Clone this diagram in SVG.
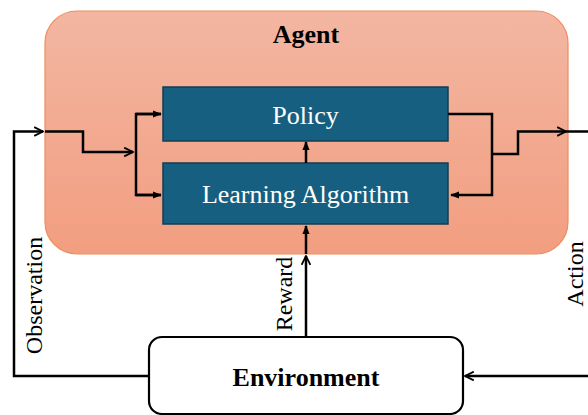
<svg xmlns="http://www.w3.org/2000/svg" width="588" height="415" viewBox="0 0 588 415">
  <defs>
    <linearGradient id="agentGrad" x1="0" y1="0" x2="0" y2="1">
      <stop offset="0" stop-color="#F3B6A2"/>
      <stop offset="1" stop-color="#F29E80"/>
    </linearGradient>
    <marker id="open" viewBox="0 0 10 10" refX="9" refY="5" markerWidth="11" markerHeight="11" markerUnits="userSpaceOnUse" orient="auto">
      <path d="M1,1 L9,5 L1,9" fill="none" stroke="#000" stroke-width="1.6"/>
    </marker>
    <marker id="solid" viewBox="0 0 10 10" refX="9" refY="5" markerWidth="9" markerHeight="9" markerUnits="userSpaceOnUse" orient="auto">
      <path d="M0,1 L10,5 L0,9 Z" fill="#000"/>
    </marker>
  </defs>
  <style>
    .serif { font-family: "Liberation Serif", "Times New Roman", serif; }
    .box { fill: #175F80; stroke: #123E52; stroke-width: 1.5; }
    .wt { fill: #FFFFFF; font-size: 26px; text-anchor: middle; }
    .lbl { fill: #000; font-size: 24px; text-anchor: middle; }
    .bold { font-weight: bold; font-size: 26px; text-anchor: middle; fill: #000; }
    .ln { fill: none; stroke: #000; stroke-width: 2.5; }
  </style>

  <g id="agent">
    <rect x="45" y="11" width="523" height="243" rx="32" ry="32" fill="url(#agentGrad)" stroke="#EE8D5C" stroke-width="1.2"/>
    <text class="serif bold" x="306" y="43">Agent</text>
  </g>

  <g id="policy">
    <rect class="box" x="163" y="87" width="285" height="54"/>
    <text class="serif wt" x="305.5" y="124">Policy</text>
  </g>

  <g id="learning">
    <rect class="box" x="163" y="163" width="285" height="61"/>
    <text class="serif wt" x="305.5" y="203">Learning Algorithm</text>
  </g>

  <g id="environment">
    <rect x="149" y="337" width="314" height="77" rx="13" ry="13" fill="#FFFFFF" stroke="#000" stroke-width="2.2"/>
    <text class="serif bold" x="306" y="386">Environment</text>
  </g>

  <g id="connectors">
    <!-- Observation -->
    <path class="ln" d="M149,376 H14 V131.5 H43" marker-end="url(#open)"/>
    <path class="ln" d="M45,131.5 H83 V152 H133" marker-end="url(#open)"/>
    <path class="ln" d="M161,114 H136 V195 H161" />
    <path class="ln" d="M136,114 H161" marker-end="url(#solid)"/>
    <path class="ln" d="M136,195 H161" marker-end="url(#solid)"/>
    <!-- Learning to Policy -->
    <path class="ln" d="M306,163 V142" marker-end="url(#solid)"/>
    <!-- Reward -->
    <path class="ln" d="M306,337 V256" marker-end="url(#open)"/>
    <path class="ln" d="M306,254 V226" marker-end="url(#solid)"/>
    <!-- Policy to right / feedback -->
    <path class="ln" d="M448,114 H492 V195 H451" marker-end="url(#solid)"/>
    <path class="ln" d="M492,154 H518 V131.5 H566" marker-end="url(#open)"/>
    <path class="ln" d="M566,131.5 H588"/>
    <!-- Action -->
    <path class="ln" d="M588,376 H465" marker-end="url(#open)"/>

    <text class="serif lbl" transform="translate(41.5,295.5) rotate(-90)">Observation</text>
    <text class="serif lbl" transform="translate(291.5,294) rotate(-90)">Reward</text>
    <text class="serif lbl" transform="translate(583,274) rotate(-90)">Action</text>
  </g>
</svg>
